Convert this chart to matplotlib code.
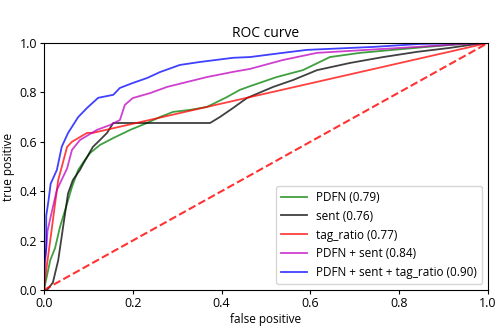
import numpy as np
import matplotlib
matplotlib.use("Agg")
import matplotlib.pyplot as plt

# values (fpr, tpr)
pdfn_fpr = [0.0, 0.007, 0.014, 0.025, 0.036, 0.052, 0.063, 0.077, 0.092, 0.104, 0.126, 0.156, 0.194,
            0.232, 0.261, 0.291, 0.329, 0.367, 0.412, 0.441, 0.464, 0.524, 0.583, 0.644, 0.712,
            0.786, 0.862, 0.944, 1.0]
pdfn_tpr = [0.0, 0.06, 0.12, 0.17, 0.255, 0.35, 0.417, 0.486, 0.526, 0.555, 0.587, 0.615, 0.648,
            0.676, 0.70, 0.721, 0.729, 0.741, 0.781, 0.81, 0.825, 0.862, 0.89, 0.943, 0.96,
            0.972, 0.984, 0.996, 1.0]

sent_fpr = [0.0, 0.007, 0.02, 0.032, 0.043, 0.054, 0.065, 0.081, 0.088, 0.097, 0.11, 0.126, 0.142,
            0.156, 0.374, 0.396, 0.426, 0.457, 0.516, 0.561, 0.615, 0.689, 0.764, 0.84, 0.914,
            0.975, 1.0]
sent_tpr = [0.0, 0.0, 0.03, 0.12, 0.255, 0.39, 0.445, 0.486, 0.51, 0.538, 0.579, 0.607, 0.636,
            0.676, 0.676, 0.70, 0.737, 0.777, 0.822, 0.85, 0.89, 0.919, 0.943, 0.964, 0.98,
            0.996, 1.0]

tag_fpr = [0.0, 0.005, 0.014, 0.025, 0.032, 0.04, 0.052, 0.063, 0.097, 0.11, 1.0]
tag_tpr = [0.0, 0.08, 0.2, 0.35, 0.445, 0.498, 0.579, 0.60, 0.636, 0.636, 1.0]

ps_fpr = [0.0, 0.003, 0.008, 0.018, 0.029, 0.052, 0.063, 0.081, 0.119, 0.149, 0.171, 0.182, 0.2,
          0.239, 0.277, 0.322, 0.367, 0.426, 0.464, 0.538, 0.615, 0.727, 0.84, 0.944, 1.0]
ps_tpr = [0.0, 0.12, 0.24, 0.32, 0.405, 0.492, 0.567, 0.607, 0.648, 0.668, 0.688, 0.749, 0.777,
          0.797, 0.822, 0.842, 0.862, 0.883, 0.895, 0.931, 0.96, 0.972, 0.984, 0.996, 1.0]

all_fpr = [0.0, 0.0, 0.005, 0.005, 0.01, 0.015, 0.02, 0.029, 0.04, 0.054, 0.077, 0.097, 0.122,
           0.156, 0.171, 0.2, 0.232, 0.261, 0.306, 0.351, 0.426, 0.464, 0.538, 0.592, 0.741,
           0.847, 0.944, 1.0]
all_tpr = [0.0, 0.1, 0.17, 0.3, 0.36, 0.43, 0.45, 0.486, 0.58, 0.635, 0.70, 0.737, 0.778,
           0.79, 0.818, 0.838, 0.858, 0.882, 0.911, 0.923, 0.94, 0.943, 0.96, 0.972, 0.984,
           0.996, 1.0, 1.0]

labels = ["PDFN (0.79)", "sent (0.76)", "tag_ratio (0.77)", "PDFN + sent (0.84)",
          "PDFN + sent + tag_ratio (0.90)"]
colors = ["g", "k", "r", "m", "b"]
curves = [(pdfn_fpr, pdfn_tpr), (sent_fpr, sent_tpr), (tag_fpr, tag_tpr),
          (ps_fpr, ps_tpr), (all_fpr, all_tpr)]

plt.rcParams['font.family'] = ['Open Sans', 'DejaVu Sans']
fig = plt.figure(figsize=(5, 3.28), dpi=100)
ax = fig.add_axes([0.088, 0.116, 0.888, 0.753])

for (fx, fy), c, lab in zip(curves, colors, labels):
    ax.plot(fx, fy, color=c, alpha=0.75, lw=1.3, label=lab)
ax.plot([0, 1], [0, 1], 'r--', alpha=0.8, lw=1.5)

ax.set_xlim(0, 1)
ax.set_ylim(0, 1)
ax.set_title("ROC curve", fontsize=10, pad=4)
ax.set_xlabel("false positive", fontsize=8.5, labelpad=2)
ax.set_ylabel("true positive", fontsize=8.5, labelpad=3)
ax.tick_params(labelsize=9, length=3, pad=2)
ax.legend(loc='lower right', fontsize=8.5, handlelength=2.2, borderaxespad=0.5)

fig.savefig("out.png", dpi=100)
